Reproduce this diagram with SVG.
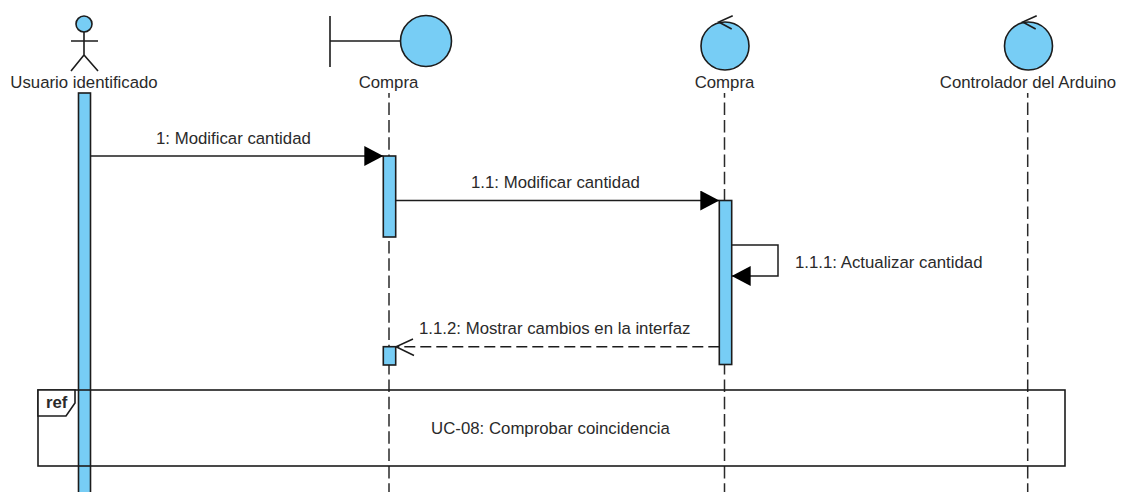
<svg xmlns="http://www.w3.org/2000/svg" width="1123" height="492" viewBox="0 0 1123 492">
<defs>
<marker id="solid" markerUnits="userSpaceOnUse" markerWidth="20" markerHeight="20" refX="19" refY="10" orient="auto"><path d="M0,0 L19,10 L0,20 Z" fill="#000"/></marker>
</defs>
<style>
text{font-family:"Liberation Sans",Arial,sans-serif;font-size:16.8px;fill:#2a2a2a}
.m{text-anchor:middle}
.s{fill:none;stroke:#1c1c1c;stroke-width:1.6}
.b{fill:#77cdf5;stroke:#1c1c1c;stroke-width:1.6}
.l{fill:none;stroke:#2a2a2a;stroke-width:1.5;stroke-dasharray:12.5 4.8;stroke-dashoffset:7.7}
.c{fill:none;stroke:#1c1c1c;stroke-width:1.5}
</style>
<rect width="1123" height="492" fill="#fff"/>
<g id="lifelines">
<path class="l" d="M389 93V492"/>
<path class="l" d="M724.5 93V492"/>
<path class="l" d="M1027.7 93V492"/>
</g>
<g id="actor-usuario">
<circle class="b" cx="84" cy="24" r="8"/>
<path class="s" d="M84 32V55M71 41H98M71 71L84 55L98 71"/>
<text class="m" x="84" y="87.500">Usuario identificado</text>
<rect class="b" x="78.500" y="93" width="12" height="400"/>
</g>
<g id="boundary-compra">
<path class="s" d="M330 16V67M330 41H400"/>
<circle class="b" cx="426" cy="41" r="25.500"/>
<text class="m" x="388.500" y="87.500">Compra</text>
<rect class="b" x="383.300" y="156" width="12.400" height="81"/>
<rect class="b" x="383.300" y="346.700" width="12.400" height="18.300"/>
</g>
<g id="control-compra">
<circle class="b" cx="725" cy="46" r="24"/>
<path class="s" d="M732.700 15.700L718.700 22L731.700 29"/>
<text class="m" x="724.500" y="87.500">Compra</text>
<rect class="b" x="719.300" y="200.500" width="12.400" height="164"/>
</g>
<g id="control-arduino">
<circle class="b" cx="1028.500" cy="46" r="24"/>
<path class="s" d="M1036.700 15.700L1022.700 22L1035.700 29"/>
<text class="m" x="1028" y="87.500">Controlador del Arduino</text>
</g>
<g id="connectors">
<path class="c" d="M90.500 156H383.300" marker-end="url(#solid)"/>
<path class="c" d="M395.700 200.500H719.300" marker-end="url(#solid)"/>
<path class="c" d="M731.700 245H778V276H731.700" marker-end="url(#solid)"/>
<path class="c" stroke-dasharray="11 5" d="M719.300 346.700H396"/>
<path class="c" d="M413 339L396 346.700L414 355.500"/>
</g>
<g id="labels">
<text x="156" y="143.500">1: Modificar cantidad</text>
<text x="471" y="187.500">1.1: Modificar cantidad</text>
<text x="795" y="267.500">1.1.1: Actualizar cantidad</text>
<text x="419" y="333.500">1.1.2: Mostrar cambios en la interfaz</text>
</g>
<g id="frame-ref">
<rect class="s" x="38" y="390" width="1027" height="76"/>
<path d="M38 390H75V403L66 416H38Z" fill="#fff" stroke="#1c1c1c" stroke-width="1.6"/>
<text x="46" y="407.500" style="font-weight:700">ref</text>
<text class="m" x="550.500" y="433.500">UC-08: Comprobar coincidencia</text>
</g>
</svg>
